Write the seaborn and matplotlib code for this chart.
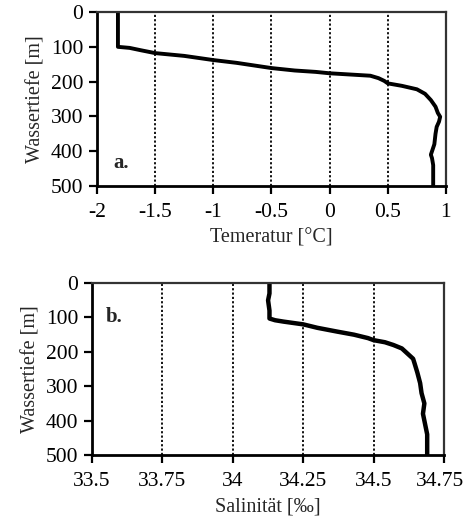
import numpy as np
import pandas as pd
import seaborn as sns
import matplotlib
matplotlib.use("Agg")
import matplotlib.pyplot as plt
import matplotlib.transforms as mtransforms

# Temperature profile (panel a)
depth_T = [0, 100, 103, 110, 118, 126, 138, 146, 152, 161, 168, 172, 176, 180, 183, 190, 198, 205,
           212, 222, 235, 253, 272, 290, 301, 315, 330, 350, 380, 400, 410, 420, 440, 470, 500]
temp = [-1.82, -1.82, -1.72, -1.62, -1.5, -1.25, -1.0, -0.8, -0.68, -0.5, -0.3, -0.12, 0.0, 0.2,
        0.35, 0.42, 0.47, 0.5, 0.62, 0.75, 0.82, 0.87, 0.91, 0.93, 0.95, 0.94, 0.92, 0.91, 0.9,
        0.88, 0.87, 0.88, 0.89, 0.89, 0.89]

# Salinity profile (panel b)
depth_S = [0, 30, 50, 80, 103, 108, 112, 120, 130, 141, 150, 160, 166, 172, 180, 190, 205, 220,
           233, 260, 291, 320, 350, 380, 400, 420, 440, 460, 480, 500]
sal = [34.13, 34.13, 34.125, 34.13, 34.13, 34.15, 34.18, 34.25, 34.3, 34.37, 34.43, 34.48, 34.5,
       34.54, 34.57, 34.6, 34.62, 34.64, 34.645, 34.655, 34.665, 34.67, 34.68, 34.675, 34.68,
       34.685, 34.69, 34.69, 34.69, 34.69]

temp_ticks = [-2, -1.5, -1, -0.5, 0, 0.5, 1]
temp_ticklabels = ["-2", "-1.5", "-1", "-0.5", "0", "0.5", "1"]
sal_ticks = [33.5, 33.75, 34, 34.25, 34.5, 34.75]
sal_ticklabels = ["33.5", "33.75", "34", "34.25", "34.5", "34.75"]
depth_ticks = [0, 100, 200, 300, 400, 500]

sns.set_theme(style="white")
plt.rcParams["font.family"] = ["Liberation Serif", "DejaVu Serif"]
plt.rcParams["font.size"] = 14.5

fig = plt.figure(figsize=(4.65, 5.24), dpi=100)
ax1 = fig.add_axes([0.2086, 0.645, 0.7505, 0.332])
ax2 = fig.add_axes([0.198, 0.1317, 0.757, 0.328])

dfT = pd.DataFrame({"T": temp, "d": depth_T})
dfS = pd.DataFrame({"S": sal, "d": depth_S})

sns.lineplot(data=dfT, x="T", y="d", sort=False, estimator=None, color="black",
             linewidth=2.8, ax=ax1)
sns.lineplot(data=dfS, x="S", y="d", sort=False, estimator=None, color="black",
             linewidth=3.2, ax=ax2)

def style(ax, xt, xtl, xlabel, xlim):
    ax.set_xlim(*xlim)
    ax.set_ylim(500, 0)
    ax.set_xticks(xt)
    ax.set_xticklabels(xtl)
    ax.set_yticks(depth_ticks)
    ax.set_yticklabels([str(v) for v in depth_ticks])
    ax.set_xlabel(xlabel, fontsize=14.5, labelpad=5)
    ax.set_ylabel("Wassertiefe [m]", fontsize=14.5, labelpad=4)
    for x in xt[1:-1]:
        ax.axvline(x, color="black", linestyle=(0, (1.2, 1.2)), linewidth=1.3, zorder=0)
    for side in ["left", "bottom"]:
        ax.spines[side].set_linewidth(2.0)
        ax.spines[side].set_color("black")
    for side in ["top", "right"]:
        ax.spines[side].set_linewidth(1.6)
        ax.spines[side].set_color("#333333")
    ax.tick_params(axis="both", direction="out", length=6, width=1.6, colors="black",
                   labelsize=15.5, bottom=True, left=True)
    ax.tick_params(axis="x", pad=6)
    ax.tick_params(axis="y", pad=4)
    ax.grid(False)

style(ax1, temp_ticks, temp_ticklabels, "Temeratur [°C]", (-2, 1))
style(ax2, sal_ticks, sal_ticklabels, "Salinität [‰]", (33.5, 34.75))

# keep the last salinity tick label inside the figure
last = ax2.get_xticklabels()[-1]
last.set_transform(last.get_transform() +
                   mtransforms.ScaledTranslation(-4.5 / 100, 0, fig.dpi_scale_trans))

ax1.text(-1.86, 434, "a.", fontsize=15, fontweight="bold", va="center", ha="left")
ax2.text(33.55, 99, "b.", fontsize=15, fontweight="bold", va="center", ha="left")

fig.savefig("out.png", dpi=100, facecolor="white")
